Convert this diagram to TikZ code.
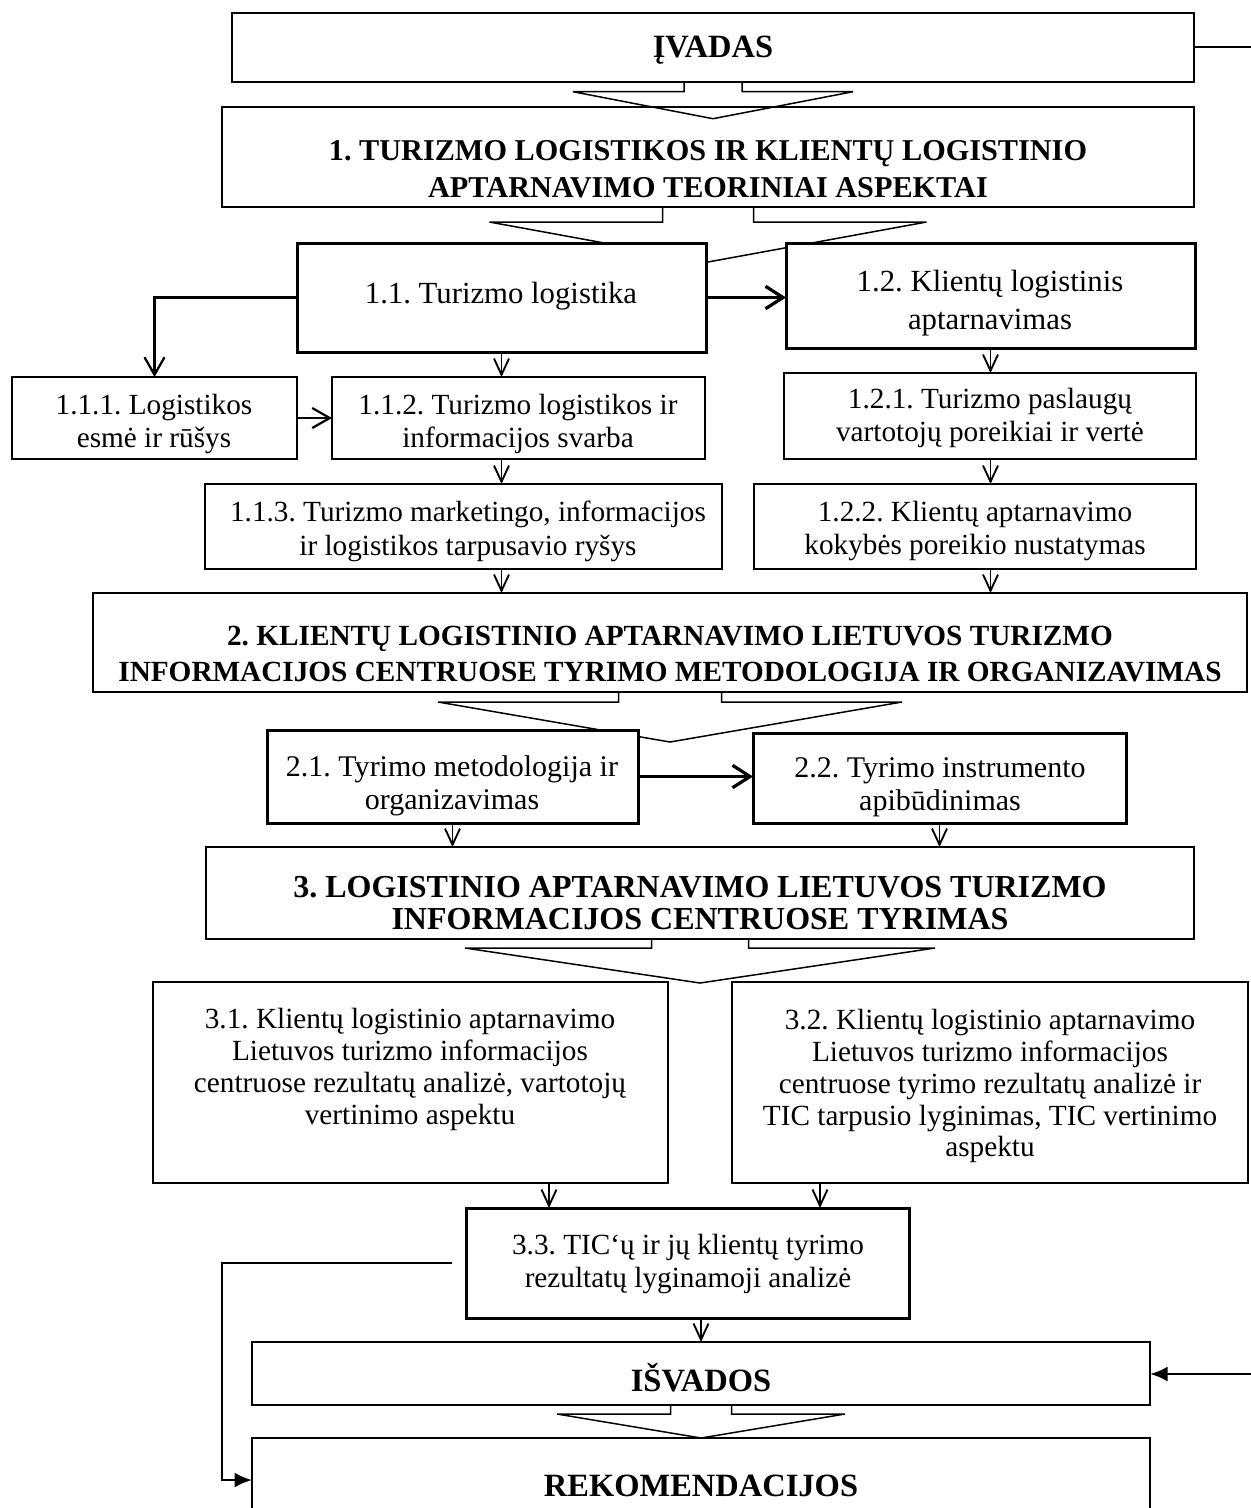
\documentclass[tikz,border=0pt]{standalone}
\usepackage{fontspec}
\setmainfont{Liberation Serif}
\usetikzlibrary{arrows.meta,calc}
\pgfdeclarelayer{background}
\pgfsetlayers{background,main}
\frenchspacing

% box node from pixel corners: name, style, x1, y1, x2, y2
\newcommand\mkbox[6]{\node[#2, minimum width={(#5-#3)*0.4pt}, minimum height={(#6-#4)*0.4pt}] (#1) at ({(#3+#5)/2},{(#4+#6)/2}) {};}
% hollow block arrow below a node anchor: anchor, half shaft, base depth, half head, tip depth
\newcommand\hlwarrow[5]{\draw[hollow] ($(#1)+(-#2,0)$) -- ($(#1)+(-#2,#3)$) -- ($(#1)+(-#4,#3)$) -- ($(#1)+(0,#5)$) -- ($(#1)+(#4,#3)$) -- ($(#1)+(#2,#3)$) -- ($(#1)+(#2,0)$);}

\tikzset{
  thinbox/.style={draw, fill=white, line width=0.75pt, inner sep=0pt, outer sep=0pt},
  thickbox/.style={thinbox, line width=1.2pt},
  txt/.style={inner sep=0pt, align=center, execute at begin node=\strut, execute at end node=\strut},
  reg/.style={txt, font={\fontsize{11.7}{13.4}\selectfont}},
  regbig/.style={txt, font={\fontsize{12.3}{15.2}\selectfont}},
  regmid/.style={txt, font={\fontsize{12}{13.2}\selectfont}},
  regtight/.style={txt, font={\fontsize{11.7}{12.7}\selectfont}},
  headA/.style={txt, font={\fontsize{12.1}{14.8}\selectfont\bfseries}},
  headB/.style={txt, font={\fontsize{11.7}{14.4}\selectfont\bfseries}},
  headC/.style={txt, font={\fontsize{12.8}{12.8}\selectfont\bfseries}},
  headD/.style={txt, font={\fontsize{13}{13.2}\selectfont\bfseries}},
  hollow/.style={line width=0.6pt, line join=miter},
  smallv/.style={line width=0.75pt, -{Straight Barb[length=6.5pt,width=6pt]}},
  midv/.style={line width=0.9pt, -{Straight Barb[length=7pt,width=8pt]}},
  bigv/.style={line width=1.3pt, -{Straight Barb[length=7pt,width=9pt]}},
  filledarrow/.style={line width=1.1pt, -{Latex[length=7pt,width=6pt]}},
}

\begin{document}
\begin{tikzpicture}[x=0.4pt,y=-0.4pt]
\useasboundingbox (0,0) rectangle (1251,1508);
\clip (0,0) rectangle (1251,1508);

% boxes
\mkbox{ivadas}{thinbox}{232}{12.7}{1194}{81.7}
\mkbox{b1}{thinbox}{222}{107}{1194}{207}
\mkbox{b11}{thickbox}{297}{243}{706}{352}
\mkbox{b12}{thickbox}{786}{243}{1195}{348}
\mkbox{b111}{thinbox}{12}{377}{297}{459}
\mkbox{b112}{thinbox}{332}{377}{705}{459}
\mkbox{b121}{thinbox}{784}{373}{1196}{459}
\mkbox{b113}{thinbox}{205}{484}{722}{569}
\mkbox{b122}{thinbox}{754}{484}{1196}{569}
\mkbox{b2}{thinbox}{93}{593}{1247}{692}
\mkbox{b21}{thickbox}{267}{730}{638}{823}
\mkbox{b22}{thickbox}{753}{733}{1126}{823}
\mkbox{b3}{thinbox}{206}{847}{1194}{939}
\mkbox{b31}{thinbox}{153}{982}{668}{1183}
\mkbox{b32}{thinbox}{732}{982}{1248}{1183}
\mkbox{b33}{thickbox}{466}{1208}{909}{1318}
\mkbox{isvados}{thinbox}{252}{1342}{1150}{1405}
\mkbox{rek}{thinbox}{252}{1438}{1150}{1522}

% texts
\node[headD] (ivt) at (713,51) {ĮVADAS};
\node[headA] (b1t) at (708,175) {1. TURIZMO LOGISTIKOS IR KLIENTŲ LOGISTINIO\\APTARNAVIMO TEORINIAI ASPEKTAI};
\node[regbig] (b11t) at (501,296) {1.1. Turizmo logistika};
\node[regbig] (b12t) at (990,306) {1.2. Klientų logistinis\\aptarnavimas};
\node[reg] (b111t) at (154,426) {1.1.1. Logistikos\\esmė ir rūšys};
\node[reg] (b112t) at (518,426) {1.1.2. Turizmo logistikos ir\\informacijos svarba};
\node[reg] (b113t) at (468,533) {1.1.3. Turizmo marketingo, informacijos\\ir logistikos tarpusavio ryšys};
\node[reg] (b121t) at (990,420) {1.2.1. Turizmo paslaugų\\vartotojų poreikiai ir vertė};
\node[reg] (b122t) at (975,533) {1.2.2. Klientų aptarnavimo\\kokybės poreikio nustatymas};
\node[headB] (b2t) at (670,659) {2. KLIENTŲ LOGISTINIO APTARNAVIMO LIETUVOS TURIZMO\\INFORMACIJOS CENTRUOSE TYRIMO METODOLOGIJA IR ORGANIZAVIMAS};
\node[regmid] (b21t) at (452,788) {2.1. Tyrimo metodologija ir\\organizavimas};
\node[regmid] (b22t) at (940,789) {2.2. Tyrimo instrumento\\apibūdinimas};
\node[headC] (b3t) at (700,908) {3. LOGISTINIO APTARNAVIMO LIETUVOS TURIZMO\\INFORMACIJOS CENTRUOSE TYRIMAS};
\node[regtight] (b31t) at (410,1071) {3.1. Klientų logistinio aptarnavimo\\Lietuvos turizmo informacijos\\centruose rezultatų analizė, vartotojų\\vertinimo aspektu};
\node[regtight] (b32t) at (990,1088) {3.2. Klientų logistinio aptarnavimo\\Lietuvos turizmo informacijos\\centruose tyrimo rezultatų analizė ir\\TIC tarpusio lyginimas, TIC vertinimo\\aspektu};
\node[reg] (b33t) at (688,1266) {3.3. TIC‘ų ir jų klientų tyrimo\\rezultatų lyginamoji analizė};
\node[headD] (isvt) at (701,1382) {IŠVADOS};
\node[headD] (rekt) at (701,1490) {REKOMENDACIJOS};

% hollow block arrows hidden behind the boxes below them
\begin{pgfonlayer}{background}
\hlwarrow{b1.south}{45.5}{15}{218.5}{55}
\hlwarrow{b2.south}{51.5}{10}{232}{50}
\hlwarrow{b3.south}{48.5}{9}{235}{44}
\end{pgfonlayer}
\hlwarrow{ivadas.south}{29}{10}{140}{37}
\hlwarrow{isvados.south}{30.5}{9}{144}{33}

% connectors
\draw[smallv] (b11.south) -- (b11.south |- b112.north);
\draw[smallv] (b11.south |- b112.south) -- (b11.south |- b113.north);
\draw[smallv] (b11.south |- b113.south) -- (b11.south |- b2.north);
\draw[smallv] (b12.south) -- (b12.south |- b121.north);
\draw[smallv] (b12.south |- b121.south) -- (b12.south |- b122.north);
\draw[smallv] (b12.south |- b122.south) -- (b12.south |- b2.north);
\draw[midv] (b11.west) -| (b111.north);
\draw[midv] (b111.east) -- (b112.west |- b111.east);
\draw[bigv] (b11.east) -- (b12.west |- b11.east);
\draw[smallv] (b21.south) -- (b21.south |- b3.north);
\draw[smallv] (b22.south) -- (b22.south |- b3.north);
\draw[bigv] (b21.east) -- (b22.west |- b21.east);
\coordinate (a31) at ($(b33.north west)+(83,0)$);
\coordinate (a32) at ($(b33.north east)+(-89,0)$);
\draw[smallv] (a31 |- b31.south) -- (a31);
\draw[smallv] (a32 |- b32.south) -- (a32);
\draw[smallv] (isvados.north |- b33.south) -- (isvados.north);
\coordinate (rout) at (1251,47);
\draw[line width=1pt] (ivadas.east) -- (ivadas.east -| rout);
\coordinate (rin) at (1251,1374);
\draw[filledarrow] (rin) -- (isvados.east |- rin);
\coordinate (c33) at ($(b33.west)+(-14,0)$);
\draw[filledarrow, line width=0.9pt] (c33) -| ($(rek.west)+(-30,0)$) -- (rek.west);
\end{tikzpicture}
\end{document}
